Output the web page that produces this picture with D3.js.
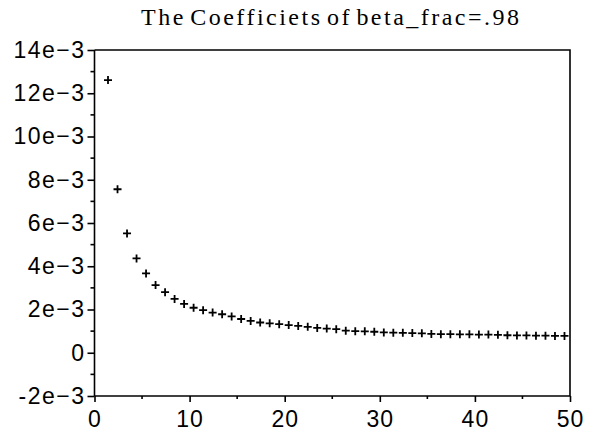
<!DOCTYPE html>
<html>
<head>
<meta charset="utf-8">
<script src="https://cdn.jsdelivr.net/npm/d3@7"></script>
<style>
  body { margin: 0; background: #fff; }
  svg { display: block; }
</style>
</head>
<body>
<svg id="chart" width="592" height="435"></svg>
<script>
// coefficient index (x) and value (y)
const coefIndex = d3.range(1, 50);
const coefValue = [
    12.61, 7.56, 5.52, 4.36, 3.67, 3.13, 2.80, 2.49, 2.26, 2.08,
    1.97, 1.86, 1.78, 1.68, 1.56, 1.47, 1.40, 1.36, 1.32, 1.28,
    1.24, 1.20, 1.15, 1.12, 1.09, 1.02, 1.00, 0.99, 0.97, 0.94,
    0.93, 0.92, 0.91, 0.90, 0.87, 0.86, 0.86, 0.85, 0.85, 0.84,
    0.84, 0.83, 0.81, 0.80, 0.80, 0.79, 0.79, 0.78, 0.78
].map(v => v * 1e-3);

const xTicks = [0, 10, 20, 30, 40, 50];
const xMinorTicks = [5, 15, 25, 35, 45];
const yTicks = [-2e-3, 0, 2e-3, 4e-3, 6e-3, 8e-3, 10e-3, 12e-3, 14e-3];
const yTickLabels = ["-2e\u22123", "0", "2e\u22123", "4e\u22123", "6e\u22123", "8e\u22123", "10e\u22123", "12e\u22123", "14e\u22123"];
const yMinorTicks = [-1e-3, 1e-3, 3e-3, 5e-3, 7e-3, 9e-3, 11e-3, 13e-3];

const title = "The Coefficiets of beta_frac=.98";

const svg = d3.select("#chart");
const margin = {top: 50, right: 22, bottom: 39, left: 94.5};
const width = +svg.attr("width");
const height = +svg.attr("height");

const x = d3.scaleLinear()
    .domain([0, 50])
    .range([margin.left, width - margin.right]);

const y = d3.scaleLinear()
    .domain([-2e-3, 14e-3])
    .range([height - margin.bottom, margin.top]);

const tickFont = "'Liberation Sans', Arial, sans-serif";

// frame (top and right sides)
svg.append("path")
    .attr("d", `M${x(0)},${y(14e-3)}H${x(50)}V${y(-2e-3)}`)
    .attr("fill", "none")
    .attr("stroke", "#000")
    .attr("stroke-width", 1.6);

// x axis
const xAxis = svg.append("g")
    .attr("transform", `translate(0,${y(-2e-3)})`)
    .call(d3.axisBottom(x)
        .tickValues(xTicks)
        .tickSize(6)
        .tickPadding(9)
        .tickFormat(d3.format("d")));

xAxis.selectAll(".minor")
    .data(xMinorTicks)
    .join("line")
    .attr("class", "minor")
    .attr("x1", d => x(d))
    .attr("x2", d => x(d))
    .attr("y1", 0)
    .attr("y2", 3)
    .attr("stroke", "#000")
    .attr("stroke-width", 1.6);

// y axis
const yAxis = svg.append("g")
    .attr("transform", `translate(${x(0)},0)`)
    .call(d3.axisLeft(y)
        .tickValues(yTicks)
        .tickSize(7)
        .tickPadding(2)
        .tickFormat((d, i) => yTickLabels[i]));

yAxis.selectAll(".minor")
    .data(yMinorTicks)
    .join("line")
    .attr("class", "minor")
    .attr("x1", 0)
    .attr("x2", -4)
    .attr("y1", d => y(d))
    .attr("y2", d => y(d))
    .attr("stroke", "#000")
    .attr("stroke-width", 1.6);

svg.selectAll(".domain, .tick line")
    .attr("stroke", "#000")
    .attr("stroke-width", 1.6);

svg.selectAll(".tick text")
    .attr("fill", "#000")
    .style("font-family", tickFont)
    .style("font-size", "23px");

// wider glyph spacing like the reference's bitmap font
yAxis.selectAll(".tick text").style("letter-spacing", "1.5px");
xAxis.selectAll(".tick text").style("letter-spacing", "1px");

xAxis.select(".domain").attr("d", `M${x(0)},0H${x(50)}`);
yAxis.select(".domain").attr("d", `M0,${y(-2e-3)}V${y(14e-3)}`);

// plus markers (glyphs sit a few px right of the point, as in the reference)
const markerDx = 4;
const points = coefIndex.map((k, i) => [k, coefValue[i]]);

svg.append("g")
    .selectAll("path")
    .data(points)
    .join("path")
    .attr("transform", d => `translate(${x(d[0]) + markerDx},${y(d[1])})`)
    .attr("d", "M-4,0H4M0,-4V4")
    .attr("fill", "none")
    .attr("stroke", "#000")
    .attr("stroke-width", 1.8);

// title
svg.append("text")
    .attr("x", 330)
    .attr("y", 25)
    .attr("text-anchor", "middle")
    .attr("textLength", 378)
    .attr("lengthAdjust", "spacing")
    .style("font-family", "'Liberation Serif', 'Times New Roman', serif")
    .style("font-size", "24px")
    .style("word-spacing", "-4px")
    .text(title);
</script>
</body>
</html>
